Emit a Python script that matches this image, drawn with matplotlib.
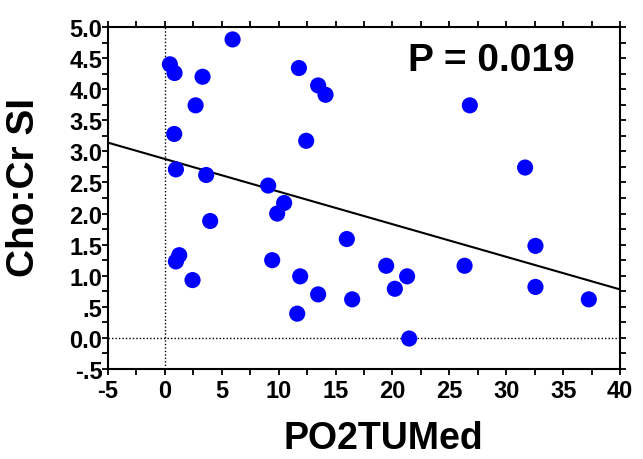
import numpy as np
import matplotlib.pyplot as plt
from matplotlib.ticker import MultipleLocator, FixedLocator, FixedFormatter

plt.rcParams['font.family'] = ['Liberation Sans', 'DejaVu Sans']
plt.rcParams['font.weight'] = 'bold'
plt.rcParams['axes.unicode_minus'] = False

# PO2TUMed vs Cho:Cr SI
po2 = [0.44, 0.85, 3.31, 5.95, 11.78, 13.47, 14.12, 2.70, 0.82, 12.42,
       0.97, 3.63, 9.08, 10.48, 9.87, 3.98, 1.26, 0.97, 2.43, 9.43,
       15.99, 11.89, 13.47, 16.46, 11.63, 19.45, 21.29, 20.21, 21.47, 26.34,
       32.57, 32.57, 37.26, 26.80, 31.66]
cho = [4.40, 4.26, 4.20, 4.80, 4.34, 4.06, 3.91, 3.74, 3.28, 3.17,
       2.71, 2.62, 2.45, 2.17, 2.00, 1.88, 1.33, 1.23, 0.93, 1.25,
       1.59, 0.99, 0.70, 0.62, 0.39, 1.16, 0.99, 0.79, -0.01, 1.16,
       1.48, 0.82, 0.62, 3.74, 2.74]

# regression line end points
fit_x = [-5, 40]
fit_y = [3.14, 0.78]

xticks = [-5, 0, 5, 10, 15, 20, 25, 30, 35, 40]
yticks = [-0.5, 0.0, 0.5, 1.0, 1.5, 2.0, 2.5, 3.0, 3.5, 4.0, 4.5, 5.0]
ylabels = ['-.5', '0.0', '.5', '1.0', '1.5', '2.0', '2.5', '3.0', '3.5', '4.0', '4.5', '5.0']

fig = plt.figure(figsize=(6.43, 4.60), dpi=100)
ax = fig.add_axes([108/643, 1-370/460, 512/643, 342/460])

ax.axvline(0, color='black', lw=1, ls=(0, (1, 1.5)), zorder=1)
ax.axhline(0, color='black', lw=1, ls=(0, (1, 1.5)), zorder=1)
ax.plot(fit_x, fit_y, color='black', lw=1.5, zorder=2)
ax.scatter(po2, cho, s=135, color='#0000ff', edgecolors='none', zorder=3)

ax.set_xlim(-5, 40)
ax.set_ylim(-0.5, 5.0)
ax.xaxis.set_major_locator(FixedLocator(xticks))
ax.xaxis.set_minor_locator(MultipleLocator(2.5))
ax.yaxis.set_major_locator(FixedLocator(yticks))
ax.yaxis.set_major_formatter(FixedFormatter(ylabels))
ax.yaxis.set_minor_locator(MultipleLocator(0.25))

for s in ax.spines.values():
    s.set_linewidth(1.5)
ax.tick_params(which='both', direction='out', top=True, right=True,
               length=4, width=1.3)
ax.tick_params(axis='x', labelsize=17, pad=3)
ax.tick_params(axis='y', labelsize=17, pad=0)

ax.set_xlabel('PO2TUMed', fontsize=27, fontweight='bold')
ax.set_ylabel('Cho:Cr SI', fontsize=28, fontweight='bold')
ax.xaxis.set_label_coords(0.537, -0.15)
ax.yaxis.set_label_coords(-0.128, 0.534)

ax.text(0.748, 0.904, 'P = 0.019', transform=ax.transAxes, fontsize=28,
        fontweight='bold', ha='center', va='center')

fig.savefig('out.png', dpi=100)
